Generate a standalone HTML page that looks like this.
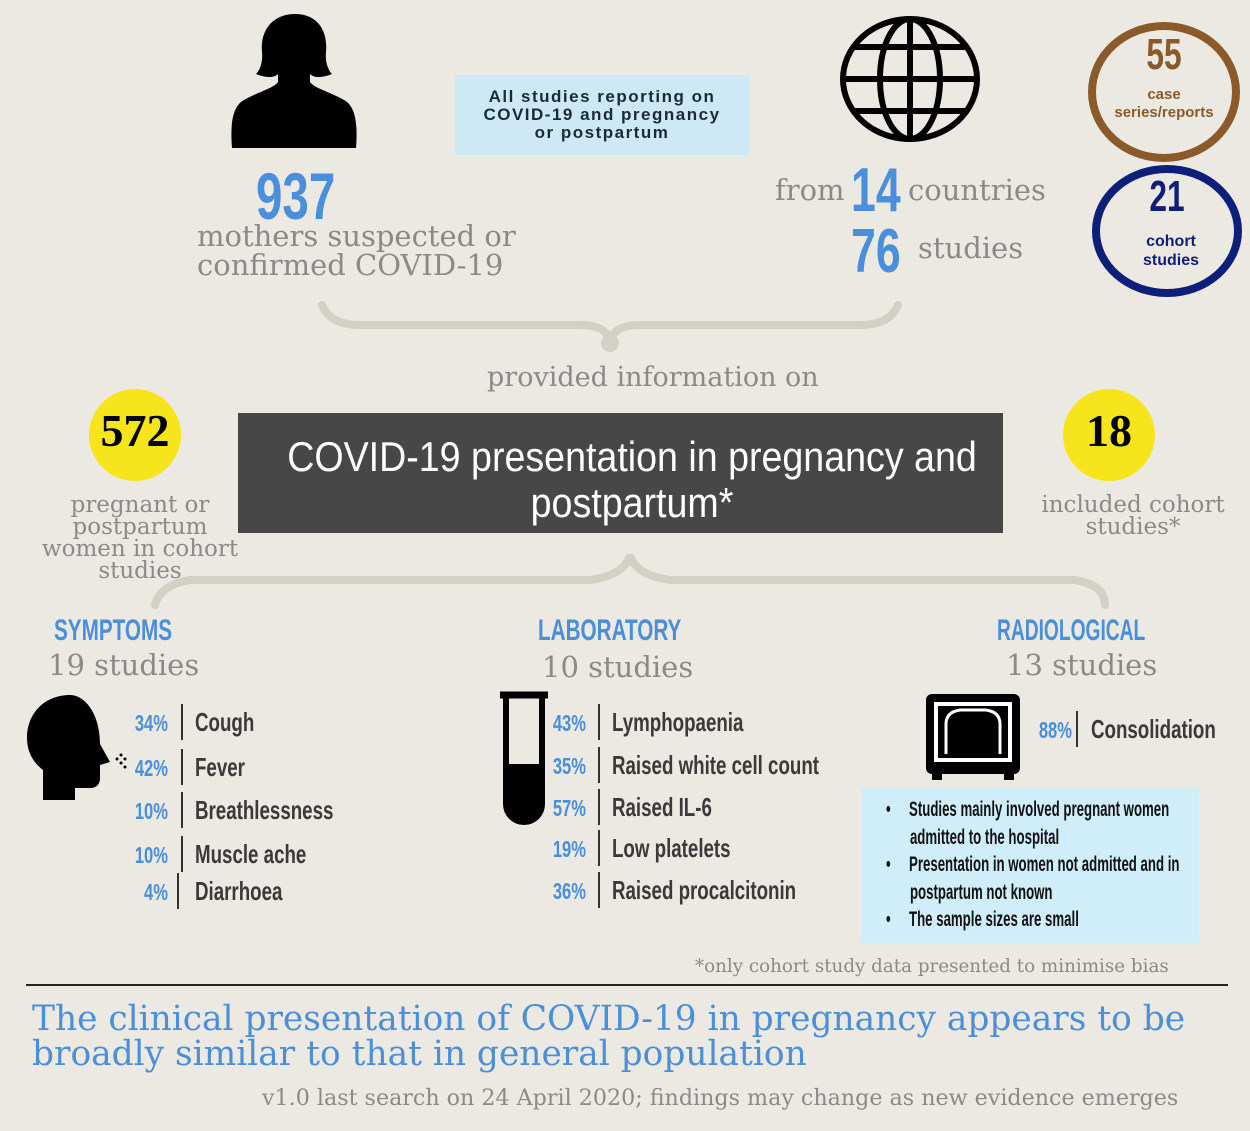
<!DOCTYPE html>
<html><head><meta charset="utf-8"><style>
body{margin:0}
#c{position:relative;width:1250px;height:1131px;background:#ece9e2;overflow:hidden;font-family:"Liberation Sans",sans-serif}
.a{position:absolute;white-space:nowrap}
.slab{font-family:"DejaVu Serif","Liberation Serif",serif;color:#8a8a8a;font-weight:normal}
.blue{color:#4a8fdc}
.pct{color:#4a8fdc;font-size:23px;font-weight:bold;transform:scaleX(0.72);transform-origin:right top;text-align:right;width:60px}
.lab{color:#3a3a3a;font-size:26px;font-weight:bold;line-height:36px;transform:scaleX(0.72);transform-origin:left top}
.bar{position:absolute;width:2px;height:36px;background:#333}
</style></head><body><div id="c">
<svg class="a" style="left:230px;top:12px" width="130" height="140" viewBox="0 0 130 140">
<path d="M65 2c-22 0-35 16-33 38 1 10-2 18-6 22 10 4 18 4 22 0l0 8c-4 6-20 10-34 18C3 94 0 110 2 136h124c2-26-1-42-12-48-14-8-30-12-34-18l0-8c4 4 12 4 22 0-4-4-7-12-6-22C98 18 87 2 65 2z" fill="#000"/></svg>
<div class="a" style="left:455px;top:75px;width:294px;height:80px;background:#cde9f5"></div>
<div class="a" style="left:455px;top:88px;width:294px;text-align:center;font-weight:bold;font-size:17px;letter-spacing:1.5px;line-height:18px;color:#1a2a3a">All studies reporting on<br>COVID-19 and pregnancy<br>or postpartum</div>
<svg class="a" style="left:838px;top:14px" width="144" height="130" viewBox="0 0 144 130"><g fill="none" stroke="#000" stroke-width="6"><ellipse cx="72" cy="65" rx="67" ry="60"/><ellipse cx="72" cy="65" rx="30" ry="60"/><line x1="72" y1="5" x2="72" y2="125"/><line x1="5" y1="65" x2="139" y2="65"/><line x1="16" y1="33" x2="128" y2="33"/><line x1="16" y1="97" x2="128" y2="97"/></g></svg>
<div class="a" style="left:1088px;top:22px;width:136px;height:124px;border:8px solid #8b5a2b;border-radius:50%"></div>
<div class="a" style="left:1088px;top:30px;width:152px;text-align:center;font-size:44px;font-weight:bold;color:#8b5a2b;transform:scaleX(0.72)">55</div>
<div class="a" style="left:1088px;top:86px;width:152px;text-align:center;font-size:15px;font-weight:bold;color:#8b5a2b;line-height:18px">case<br>series/reports</div>
<div class="a" style="left:1092px;top:165px;width:134px;height:116px;border:8px solid #0e1f7a;border-radius:50%"></div>
<div class="a" style="left:1092px;top:172px;width:150px;text-align:center;font-size:44px;font-weight:bold;color:#0e1f7a;transform:scaleX(0.72)">21</div>
<div class="a" style="left:1096px;top:232px;width:150px;text-align:center;font-size:16px;font-weight:bold;color:#0e1f7a;line-height:19px">cohort<br>studies</div>
<div class="a blue" style="left:256px;top:158px;font-size:66px;font-weight:bold;transform:scaleX(0.72);transform-origin:left top">937</div>
<div class="a slab" style="left:197px;top:222px;font-size:29px;line-height:29px">mothers suspected or<br>confirmed COVID-19</div>
<div class="a slab" style="left:775px;top:173px;font-size:29px">from</div>
<div class="a blue" style="left:851px;top:155px;font-size:62px;font-weight:bold;transform:scaleX(0.72);transform-origin:left top">14</div>
<div class="a slab" style="left:908px;top:173px;font-size:29px">countries</div>
<div class="a blue" style="left:851px;top:216px;font-size:62px;font-weight:bold;transform:scaleX(0.72);transform-origin:left top">76</div>
<div class="a slab" style="left:918px;top:231px;font-size:29px">studies</div>
<svg class="a" style="left:0;top:0" width="1250" height="620"><g fill="none" stroke="#d4d0c6" stroke-width="8" stroke-linecap="round">
<path d="M322 305 Q330 325 360 325 L580 325 Q605 325 610 340 Q615 325 640 325 L860 325 Q890 325 898 305"/>
<path d="M155 605 Q160 585 190 580 L590 580 Q625 575 630 555 Q635 575 670 580 L1075 580 Q1105 585 1105 605"/></g>
<circle cx="610" cy="343" r="9" fill="#d4d0c6"/></svg>
<div class="a slab" style="left:487px;top:362px;font-size:27px">provided information on</div>
<div class="a" style="left:238px;top:413px;width:765px;height:120px;background:#474747"></div>
<div class="a" style="left:182px;top:434px;width:900px;text-align:center;color:#fff;font-size:42px;line-height:46px;transform:scaleX(0.895);transform-origin:450px 0">COVID-19 presentation in pregnancy and<br>postpartum*</div>
<div class="a" style="left:89px;top:389px;width:92px;height:92px;border-radius:50%;background:#f7e51c"></div>
<div class="a" style="left:85px;top:404px;width:100px;text-align:center;font-family:'Liberation Serif',serif;font-weight:bold;font-size:46px">572</div>
<div class="a slab" style="left:40px;top:494px;width:200px;text-align:center;font-size:23px;line-height:22px;white-space:normal">pregnant or postpartum women in cohort studies</div>
<div class="a" style="left:1063px;top:389px;width:92px;height:92px;border-radius:50%;background:#f7e51c"></div>
<div class="a" style="left:1059px;top:404px;width:100px;text-align:center;font-family:'Liberation Serif',serif;font-weight:bold;font-size:46px">18</div>
<div class="a slab" style="left:1040px;top:494px;width:186px;text-align:center;font-size:23px;line-height:22px;white-space:normal">included cohort studies*</div>
<div class="a blue" style="left:54px;top:614px;font-size:30px;font-weight:bold;transform:scaleX(0.69);transform-origin:left top">SYMPTOMS</div>
<div class="a slab" style="left:48px;top:648px;font-size:29px">19 studies</div>
<div class="a blue" style="left:538px;top:614px;font-size:30px;font-weight:bold;transform:scaleX(0.69);transform-origin:left top">LABORATORY</div>
<div class="a slab" style="left:542px;top:650px;font-size:29px">10 studies</div>
<div class="a blue" style="left:997px;top:614px;font-size:30px;font-weight:bold;transform:scaleX(0.64);transform-origin:left top">RADIOLOGICAL</div>
<div class="a slab" style="left:1006px;top:648px;font-size:29px">13 studies</div>
<svg class="a" style="left:25px;top:693px" width="105" height="110" viewBox="0 0 105 110"><path d="M45 2C20 2 2 20 2 45c0 15 7 25 16 32v30h32V95h15c7 0 10-4 10-10V72l10-3-10-18c0-30-15-49-30-49z" fill="#000"/><g fill="#000"><circle cx="92" cy="66" r="1.5"/><circle cx="96" cy="62" r="1.5"/><circle cx="96" cy="70" r="1.5"/><circle cx="100" cy="66" r="1.5"/><circle cx="100" cy="74" r="1.5"/></g></svg>
<div class="a pct" style="left:108px;top:710px">34%</div><div class="bar" style="left:181px;top:704px"></div><div class="a lab" style="left:195px;top:704px">Cough</div>
<div class="a pct" style="left:108px;top:755px">42%</div><div class="bar" style="left:181px;top:749px"></div><div class="a lab" style="left:195px;top:749px">Fever</div>
<div class="a pct" style="left:108px;top:798px">10%</div><div class="bar" style="left:181px;top:792px"></div><div class="a lab" style="left:195px;top:792px">Breathlessness</div>
<div class="a pct" style="left:108px;top:842px">10%</div><div class="bar" style="left:181px;top:836px"></div><div class="a lab" style="left:195px;top:836px">Muscle ache</div>
<div class="a pct" style="left:108px;top:879px">4%</div><div class="bar" style="left:177px;top:873px"></div><div class="a lab" style="left:195px;top:873px">Diarrhoea</div>
<svg class="a" style="left:498px;top:690px" width="56" height="136" viewBox="0 0 56 136"><path d="M8 6v108a18 18 0 0 0 36 0V6" fill="none" stroke="#000" stroke-width="6"/><line x1="2" y1="5" x2="50" y2="5" stroke="#000" stroke-width="7"/><path d="M8 74h36v40a18 18 0 0 1-36 0z" fill="#000"/></svg>
<div class="a pct" style="left:526px;top:710px">43%</div><div class="bar" style="left:598px;top:704px"></div><div class="a lab" style="left:612px;top:704px">Lymphopaenia</div>
<div class="a pct" style="left:526px;top:753px">35%</div><div class="bar" style="left:598px;top:747px"></div><div class="a lab" style="left:612px;top:747px">Raised white cell count</div>
<div class="a pct" style="left:526px;top:795px">57%</div><div class="bar" style="left:598px;top:789px"></div><div class="a lab" style="left:612px;top:789px">Raised IL-6</div>
<div class="a pct" style="left:526px;top:836px">19%</div><div class="bar" style="left:598px;top:830px"></div><div class="a lab" style="left:612px;top:830px">Low platelets</div>
<div class="a pct" style="left:526px;top:878px">36%</div><div class="bar" style="left:598px;top:872px"></div><div class="a lab" style="left:612px;top:872px">Raised procalcitonin</div>
<svg class="a" style="left:924px;top:692px" width="98" height="90" viewBox="0 0 98 90"><rect x="2" y="2" width="94" height="80" rx="6" fill="#000"/><rect x="10" y="10" width="78" height="60" fill="#fff"/><rect x="14" y="14" width="70" height="52" fill="#000"/><path d="M22 62V32q0-12 14-14h26q14 2 14 14v30" fill="none" stroke="#fff" stroke-width="3"/><rect x="8" y="82" width="10" height="6" fill="#000"/><rect x="80" y="82" width="10" height="6" fill="#000"/></svg>
<div class="a pct" style="left:1012px;top:717px">88%</div><div class="bar" style="left:1076px;top:711px"></div><div class="a lab" style="left:1091px;top:711px">Consolidation</div>
<div class="a" style="left:861px;top:788px;width:338px;height:155px;background:#cfeefa"></div>
<div class="a" style="left:886px;top:796px;font-size:21px;line-height:27.5px;color:#111;font-weight:bold;transform:scaleX(0.63);transform-origin:left top">
<div>•&nbsp;&nbsp;&nbsp;&nbsp;&nbsp;Studies mainly involved pregnant women</div><div style="padding-left:38px">admitted to the hospital</div>
<div>•&nbsp;&nbsp;&nbsp;&nbsp;&nbsp;Presentation in women not admitted and in</div><div style="padding-left:38px">postpartum not known</div>
<div>•&nbsp;&nbsp;&nbsp;&nbsp;&nbsp;The sample sizes are small</div></div>
<div class="a slab" style="left:695px;top:956px;font-size:18.3px">*only cohort study data presented to minimise bias</div>
<div class="a" style="left:26px;top:984px;width:1202px;height:2px;background:#222"></div>
<div class="a slab" style="left:32px;top:1002px;font-size:34.4px;line-height:35px;color:#4a8fdc">The clinical presentation of COVID-19 in pregnancy appears to be<br>broadly similar to that in general population</div>
<div class="a slab" style="left:262px;top:1085px;font-size:22.2px;color:#8a8a8a">v1.0 last search on 24 April 2020; findings may change as new evidence emerges</div>
</div></body></html>
